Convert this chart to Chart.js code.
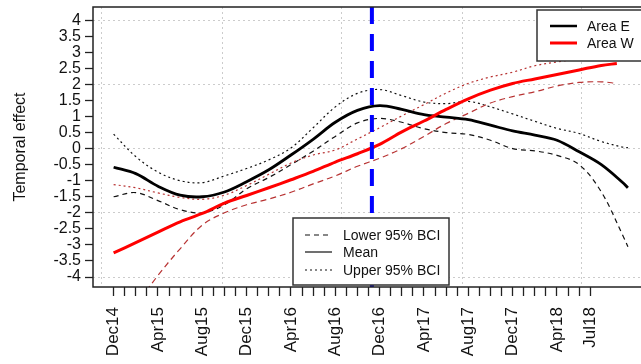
<!DOCTYPE html>
<html>
<head>
<meta charset="utf-8">
<script src="https://cdn.jsdelivr.net/npm/chart.js@4.4.1/dist/chart.umd.min.js"></script>
<style>
html, body { margin: 0; padding: 0; overflow: hidden; background: #fff; }
#wrap { width: 660px; height: 364px; }
</style>
</head>
<body>
<div id="wrap"><canvas id="chart" width="660" height="364"></canvas></div>
<script>
// months since Dec 2014
var monthsE = [0, 2, 4, 6, 8, 10, 12, 14, 16, 18, 20, 22, 24, 26, 28, 30, 32, 34, 36, 38, 40, 42, 44, 46, 46.4];
var meanE  = [-0.58, -0.78, -1.17, -1.45, -1.5, -1.35, -1.03, -0.66, -0.2, 0.29, 0.82, 1.19, 1.34, 1.22, 1.06, 0.98, 0.9, 0.73, 0.55, 0.42, 0.26, -0.1, -0.5, -1.08, -1.22];
var lowerE = [-1.5, -1.37, -1.62, -1.9, -2.0, -1.75, -1.25, -0.9, -0.5, -0.08, 0.38, 0.8, 0.94, 0.82, 0.62, 0.5, 0.44, 0.26, 0.0, -0.07, -0.21, -0.5, -1.35, -2.75, -3.06];
var upperE = [0.45, -0.25, -0.73, -1.0, -1.06, -0.85, -0.62, -0.35, 0.02, 0.65, 1.3, 1.72, 1.84, 1.65, 1.45, 1.4, 1.47, 1.3, 1.08, 0.85, 0.63, 0.47, 0.22, 0.04, 0.03];

var monthsW = [0, 2, 4, 6, 8, 10, 12, 14, 16, 18, 20, 22, 24, 26, 28, 30, 32, 34, 36, 38, 40, 42, 44, 45.4];
var meanW  = [-3.25, -2.93, -2.6, -2.28, -2.02, -1.7, -1.46, -1.22, -0.97, -0.71, -0.42, -0.16, 0.13, 0.52, 0.86, 1.22, 1.55, 1.82, 2.03, 2.17, 2.31, 2.45, 2.59, 2.65];
var lowerW = [-6.0, -4.9, -3.95, -3.12, -2.38, -2.0, -1.75, -1.57, -1.36, -1.1, -0.85, -0.55, -0.3, 0.0, 0.38, 0.78, 1.1, 1.42, 1.62, 1.77, 1.95, 2.06, 2.08, 2.03];
var upperW = [-1.12, -1.22, -1.38, -1.52, -1.58, -1.45, -1.15, -0.8, -0.45, -0.2, -0.04, 0.3, 0.65, 1.02, 1.37, 1.73, 2.03, 2.23, 2.38, 2.58, 2.7, 2.8, 2.9, 2.95];

var eventMonth = 23.3;

var tickMonths = [0, 4, 8, 12, 16, 20, 24, 28, 32, 36, 40, 43];
var tickLabels = ['Dec14', 'Apr15', 'Aug15', 'Dec15', 'Apr16', 'Aug16', 'Dec16', 'Apr17', 'Aug17', 'Dec17', 'Apr18', 'Jul18'];
var minorMonths = [0, 1, 2, 3, 4, 5, 6, 7, 8, 9, 10, 11, 12, 13, 14, 15, 16, 17, 18, 19, 20, 21,
  22, 23, 24, 25, 26, 27, 28, 29, 30, 31, 32, 33, 34, 35, 36, 37, 38, 39, 40, 41, 42, 43];
var gridMonths = [-1.05, 9.78, 20.6, 31.43, 42.25];
var yTicks = [-4, -3.5, -3, -2.5, -2, -1.5, -1, -0.5, 0, 0.5, 1, 1.5, 2, 2.5, 3, 3.5, 4];

var xMin = -1.86, xMax = 48.3;
var yMin = -4.31, yMax = 4.41;

var darkRed = '#b83333';
var FONT = "'Liberation Sans', Arial, sans-serif";

Chart.defaults.font.family = FONT;

function pts(xs, ys) {
  return xs.map((x, i) => ({ x: x, y: ys[i] }));
}

function series(data, color, width, dash, order) {
  return {
    data: data,
    borderColor: color,
    borderWidth: width,
    borderDash: dash,
    pointRadius: 0,
    fill: false,
    tension: 0.35,
    order: order,
  };
}

// the two boxed legends, drawn over the lines like the R legend() calls
var areaItems = [
  { label: 'Area E', color: '#000', width: 2.5, dash: [] },
  { label: 'Area W', color: '#ff0000', width: 3, dash: [] },
];
var bciItems = [
  { label: 'Lower 95% BCI', color: '#111', width: 1.2, dash: [5, 4] },
  { label: 'Mean', color: '#111', width: 1.2, dash: [] },
  { label: 'Upper 95% BCI', color: '#111', width: 1.2, dash: [2, 3] },
];

function drawLegend(ctx, box, items) {
  ctx.fillStyle = '#fff';
  ctx.fillRect(box.x, box.y, box.w, box.h);
  ctx.strokeStyle = '#333';
  ctx.lineWidth = 1.5;
  ctx.strokeRect(box.x, box.y, box.w, box.h);
  ctx.font = '14px ' + FONT;
  ctx.textBaseline = 'middle';
  ctx.textAlign = 'left';
  items.forEach((it, i) => {
    var y = box.rows[i];
    ctx.beginPath();
    ctx.setLineDash(it.dash);
    ctx.strokeStyle = it.color;
    ctx.lineWidth = it.width;
    ctx.moveTo(box.lx1, y);
    ctx.lineTo(box.lx2, y);
    ctx.stroke();
    ctx.setLineDash([]);
    ctx.fillStyle = '#111';
    ctx.fillText(it.label, box.tx, y + 1);
  });
}

var frameAndLegends = {
  id: 'frameAndLegends',
  afterDraw(chart) {
    var ctx = chart.ctx;
    var a = chart.chartArea;
    ctx.save();
    ctx.strokeStyle = '#222';
    ctx.lineWidth = 1.5;
    ctx.strokeRect(a.left, a.top, a.right - a.left, a.bottom - a.top);
    drawLegend(ctx, { x: 537, y: 10, w: 140, h: 51, rows: [26, 43], lx1: 550, lx2: 577, tx: 587 }, areaItems);
    drawLegend(ctx, { x: 293, y: 218, w: 156, h: 67, rows: [235, 252, 270], lx1: 305, lx2: 332, tx: 343 }, bciItems);
    ctx.restore();
  },
};

var ctx = document.getElementById('chart').getContext('2d');

new Chart(ctx, {
  type: 'line',
  data: {
    datasets: [
      series(pts(monthsE, lowerE), '#111', 1.2, [5, 4], 4),
      series(pts(monthsE, upperE), '#111', 1.2, [2, 3], 4),
      series(pts(monthsW, lowerW), darkRed, 1.2, [6, 4], 3),
      series(pts(monthsW, upperW), darkRed, 1.2, [2, 3], 3),
      series(pts(monthsE, meanE), '#000', 2.8, [], 2),
      series(pts(monthsW, meanW), '#ff0000', 3, [], 1),
      {
        // drawn top to bottom so the dash pattern starts at the top frame
        data: [{ x: eventMonth, y: yMax }, { x: eventMonth, y: yMin }],
        borderColor: '#0000ff',
        borderWidth: 4,
        borderDash: [17, 10],
        pointRadius: 0,
        tension: 0,
        order: 0,
      },
    ],
  },
  options: {
    responsive: false,
    animation: false,
    events: [],
    layout: { padding: { top: 7, right: 11, left: 0, bottom: 0 } },
    plugins: {
      legend: { display: false },
      tooltip: { enabled: false },
    },
    scales: {
      x: {
        type: 'linear',
        position: 'bottom',
        min: xMin,
        max: xMax,
        afterBuildTicks: (s) => { s.ticks = minorMonths.map((v) => ({ value: v })); },
        afterFit: (s) => { s.height = 77; s.paddingLeft = 0; s.paddingRight = 0; },
        grid: { drawOnChartArea: false, drawTicks: true, tickLength: 9, tickColor: '#222', tickWidth: 1.3 },
        border: { display: false },
        ticks: {
          autoSkip: false,
          maxRotation: 90,
          minRotation: 90,
          padding: 11,
          color: '#111',
          font: { size: 17 },
          callback: (v) => {
            var i = tickMonths.indexOf(v);
            return i >= 0 ? tickLabels[i] : '';
          },
        },
      },
      xg: {
        type: 'linear',
        position: 'bottom',
        min: xMin,
        max: xMax,
        afterBuildTicks: (s) => { s.ticks = gridMonths.map((v) => ({ value: v })); },
        afterFit: (s) => { s.height = 0; s.paddingLeft = 0; s.paddingRight = 0; },
        grid: { color: '#cccccc', lineWidth: 1, drawTicks: false },
        border: { display: false, dash: [2, 3] },
        ticks: { display: false },
      },
      y: {
        min: yMin,
        max: yMax,
        afterBuildTicks: (s) => { s.ticks = yTicks.map((v) => ({ value: v })); },
        afterFit: (s) => { s.width = 93; s.paddingTop = 0; s.paddingBottom = 0; },
        grid: {
          color: (c) => (c.tick && c.tick.value % 2 === 0 ? '#cccccc' : 'rgba(0,0,0,0)'),
          lineWidth: 1,
          drawTicks: true,
          tickLength: 8,
          tickColor: '#222',
          tickWidth: 1.3,
        },
        border: { display: false, dash: [2, 3] },
        ticks: {
          autoSkip: false,
          padding: 4,
          color: '#111',
          font: { size: 16 },
          callback: (v) => String(v),
        },
        title: {
          display: true,
          text: 'Temporal effect',
          color: '#111',
          font: { size: 16 },
          padding: { top: 11, bottom: 0 },
        },
      },
    },
  },
  plugins: [frameAndLegends],
});
</script>
</body>
</html>
